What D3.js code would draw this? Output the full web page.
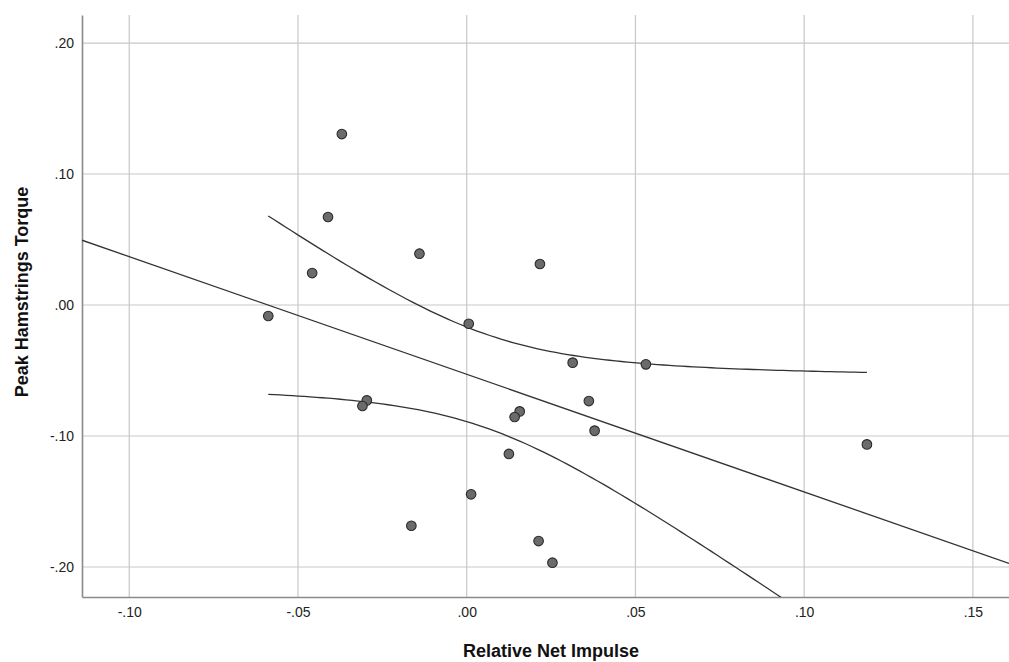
<!DOCTYPE html>
<html>
<head>
<meta charset="utf-8">
<script src="https://cdn.jsdelivr.net/npm/d3@7"></script>
<style>
  body { margin: 0; background: #fff; }
  svg { display: block; font-family: Arial, "Liberation Sans", sans-serif; }
</style>
</head>
<body>
<div id="chart"></div>
<script>
// values
var impulse = [-0.0370, -0.0411, -0.0458, -0.0140, -0.0588, 0.0006, 0.0217, -0.0296, -0.0309, 0.0314, 0.0531,
               0.0362, 0.0157, 0.0142, 0.0379, 0.0125, 0.0013, -0.0164, 0.0213, 0.0254, 0.1186];
var torque = [0.1305, 0.0672, 0.0244, 0.0392, -0.0084, -0.0143, 0.0313, -0.0728, -0.0771, -0.0440, -0.0453,
              -0.0733, -0.0812, -0.0855, -0.0959, -0.1137, -0.1445, -0.1685, -0.1802, -0.1967, -0.1064];
var xTicks = [-0.10, -0.05, 0.00, 0.05, 0.10, 0.15];
var yTicks = [-0.20, -0.10, 0.00, 0.10, 0.20];

var data = impulse.map(function (d, i) { return { x: d, y: torque[i] }; });

var W = 1009, H = 662;
var margin = { top: 15, right: 0, bottom: 65, left: 82 };
var width = W - margin.left - margin.right;
var height = H - margin.top - margin.bottom;

var svg = d3.select("#chart").append("svg")
    .attr("width", W)
    .attr("height", H);

var g = svg.append("g")
    .attr("transform", "translate(" + margin.left + "," + margin.top + ")");

var x = d3.scaleLinear().domain([-0.1140, 0.1607]).range([0, width]);
var y = d3.scaleLinear().domain([-0.2229, 0.2214]).range([height, 0]);

// SPSS style: ".20", "-.10" with plain hyphen
var fmt = function (d) {
    var s = d3.format(".2f")(d).replace("\u2212", "-");
    return s.replace("0.", ".");
};

// grid
g.append("g").selectAll("line").data(xTicks).join("line")
    .attr("x1", function (d) { return x(d); })
    .attr("x2", function (d) { return x(d); })
    .attr("y1", 0).attr("y2", height)
    .attr("stroke", "#c8c8c8").attr("stroke-width", 1.2);

g.append("g").selectAll("line").data(yTicks).join("line")
    .attr("y1", function (d) { return y(d); })
    .attr("y2", function (d) { return y(d); })
    .attr("x1", 0).attr("x2", width)
    .attr("stroke", "#c8c8c8").attr("stroke-width", 1.2);

// axes
var xAxis = d3.axisBottom(x).tickValues(xTicks).tickSize(0).tickPadding(10).tickFormat(fmt);
var yAxis = d3.axisLeft(y).tickValues(yTicks).tickSize(0).tickPadding(8).tickFormat(fmt);

var gx = g.append("g").attr("transform", "translate(0," + height + ")").call(xAxis);
var gy = g.append("g").call(yAxis);

[gx, gy].forEach(function (a) {
    a.select(".domain").attr("stroke", "#8a8a8a").attr("stroke-width", 1.6);
    a.selectAll("text").attr("font-size", 14).attr("fill", "#222")
        .attr("font-family", "Arial, 'Liberation Sans', sans-serif");
});

// linear fit and 95% mean confidence band
var n = data.length;
var mx = d3.mean(impulse), my = d3.mean(torque);
var sxx = d3.sum(impulse, function (d) { return (d - mx) * (d - mx); });
var sxy = d3.sum(data, function (d) { return (d.x - mx) * (d.y - my); });
var slope = sxy / sxx;
var icpt = my - slope * mx;
var sse = d3.sum(data, function (d) { var r = d.y - (icpt + slope * d.x); return r * r; });
var se = Math.sqrt(sse / (n - 2));
var tcrit = 2.093; // t(0.975, 19)

var xmin = d3.min(impulse), xmax = d3.max(impulse);
var xs = d3.range(0, 101).map(function (i) { return xmin + (xmax - xmin) * i / 100; });
var band = function (sign) {
    return xs.map(function (v) {
        var hw = tcrit * se * Math.sqrt(1 / n + (v - mx) * (v - mx) / sxx);
        return [v, icpt + slope * v + sign * hw];
    });
};

svg.append("defs").append("clipPath").attr("id", "plotClip")
    .append("rect").attr("width", width).attr("height", height);

var lineGen = d3.line()
    .x(function (d) { return x(d[0]); })
    .y(function (d) { return y(d[1]); });

var fitG = g.append("g").attr("clip-path", "url(#plotClip)");

fitG.append("path")
    .datum(x.domain().map(function (v) { return [v, icpt + slope * v]; }))
    .attr("d", lineGen)
    .attr("fill", "none").attr("stroke", "#333").attr("stroke-width", 1.3);

[band(1), band(-1)].forEach(function (b) {
    fitG.append("path")
        .datum(b)
        .attr("d", lineGen)
        .attr("fill", "none").attr("stroke", "#333").attr("stroke-width", 1.3);
});

// points
g.append("g").selectAll("circle").data(data).join("circle")
    .attr("cx", function (d) { return x(d.x); })
    .attr("cy", function (d) { return y(d.y); })
    .attr("r", 4.8)
    .attr("fill", "#6b6b6b")
    .attr("stroke", "#2a2a2a")
    .attr("stroke-width", 1.1);

// titles
svg.append("text")
    .attr("x", 551).attr("y", 657)
    .attr("text-anchor", "middle")
    .attr("font-size", 18).attr("font-weight", "bold").attr("fill", "#111")
    .text("Relative Net Impulse");

svg.append("text")
    .attr("transform", "translate(28,292) rotate(-90)")
    .attr("text-anchor", "middle")
    .attr("font-size", 18).attr("font-weight", "bold").attr("fill", "#111")
    .text("Peak Hamstrings Torque");
</script>
</body>
</html>
